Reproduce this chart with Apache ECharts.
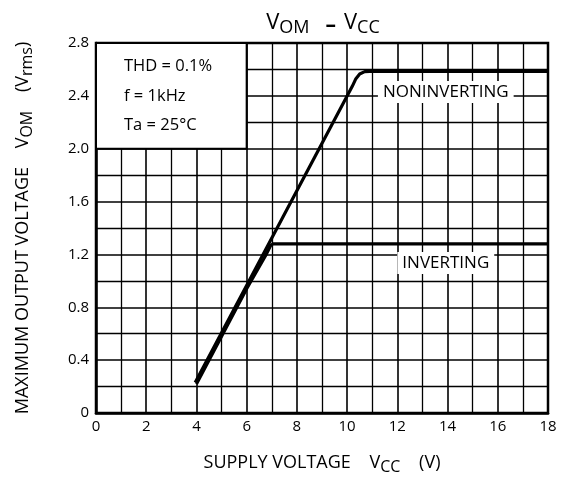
<!DOCTYPE html>
<html><head><meta charset="utf-8">
<script src="https://cdn.jsdelivr.net/npm/echarts@6/dist/echarts.min.js"></script>
<style>html,body{margin:0;padding:0;background:#fff}#c{width:563px;height:480px}</style>
</head><body><div id="c"></div>
<script>
// Data
const nonInvX = [3.95, 10.2, 10.35, 10.5, 10.7, 10.9, 18];
const nonInvY = [0.23, 2.47, 2.53, 2.565, 2.583, 2.585, 2.585];
const invX = [4.0, 6.0, 6.75, 6.95, 7.05, 18];
const invY = [0.22, 0.94, 1.19, 1.265, 1.28, 1.28];
const xTicks = [0, 2, 4, 6, 8, 10, 12, 14, 16, 18];
const yTicks = [0, 0.4, 0.8, 1.2, 1.6, 2.0, 2.4, 2.8];
const conditions = ['THD = 0.1%', 'f = 1kHz', 'Ta = 25°C'];
const curveLabels = [
  {name: 'NONINVERTING', x: 13.93, y: 2.43},
  {name: 'INVERTING', x: 13.93, y: 1.135}
];

const FONT = 'Open Sans';
const pairs = (xs, ys) => xs.map((x, i) => [x, ys[i]]);

const chart = echarts.init(document.getElementById('c'));
chart.setOption({
  animation: false,
  backgroundColor: '#fff',
  textStyle: {fontFamily: FONT, color: '#000'},
  title: {
    text: '{v|V}{s|OM}{d|–}{v|V}{s|CC}',
    left: 318, top: 4, textAlign: 'center',
    textStyle: {
      fontWeight: 'normal',
      rich: {
        v: {fontFamily: FONT, fontSize: 22, fontWeight: 'normal', color: '#000', lineHeight: 28, verticalAlign: 'middle'},
        s: {fontFamily: FONT, fontSize: 18, fontWeight: 'normal', color: '#000', lineHeight: 18, verticalAlign: 'bottom'},
        d: {fontFamily: FONT, fontSize: 21, fontWeight: 'bold', color: '#000', lineHeight: 21, verticalAlign: 'bottom',
            padding: [0, 8, 0, 16]}
      }
    }
  },
  grid: {left: 96, right: 15, top: 43, bottom: 62.5, show: true, borderColor: '#000', borderWidth: 2.5},
  xAxis: {
    type: 'value', min: 0, max: 18, interval: 2,
    axisLine: {show: true, lineStyle: {color: '#000', width: 2.5}},
    axisTick: {show: false},
    axisLabel: {color: '#000', fontSize: 15, fontFamily: FONT, margin: 6,
      formatter: v => xTicks.includes(v) ? String(v) : ''},
    splitLine: {show: true, lineStyle: {color: '#000', width: 1.6}},
    minorTick: {show: false, splitNumber: 2},
    minorSplitLine: {show: true, lineStyle: {color: '#000', width: 1.3}},
    name: '{n|SUPPLY VOLTAGE    V}{s|CC}{n|    (V)}',
    nameLocation: 'middle', nameGap: 38,
    nameTextStyle: {
      rich: {
        n: {fontFamily: FONT, fontSize: 18, color: '#000', lineHeight: 24, verticalAlign: 'middle'},
        s: {fontFamily: FONT, fontSize: 16, color: '#000', lineHeight: 16, verticalAlign: 'bottom'}
      },
      fontFamily: FONT, fontSize: 18, color: '#000'
    }
  },
  yAxis: {
    type: 'value', min: 0, max: 2.8, interval: 0.4,
    axisLine: {show: true, lineStyle: {color: '#000', width: 2.5}},
    axisTick: {show: false},
    axisLabel: {color: '#000', fontSize: 15, fontFamily: FONT, margin: 7,
      formatter: v => {
        const t = yTicks.find(k => Math.abs(k - v) < 1e-6);
        return t === undefined ? '' : (t === 0 ? '0' : t.toFixed(1));
      }},
    splitLine: {show: true, lineStyle: {color: '#000', width: 1.6}},
    minorTick: {show: false, splitNumber: 2},
    minorSplitLine: {show: true, lineStyle: {color: '#000', width: 1.3}},
    name: '{n|MAXIMUM OUTPUT VOLTAGE    V}{s|OM}{n|    (V}{s|rms}{n|)}',
    nameLocation: 'middle', nameGap: 61, nameRotate: 90,
    nameTextStyle: {
      rich: {
        n: {fontFamily: FONT, fontSize: 18, color: '#000', lineHeight: 24, verticalAlign: 'middle'},
        s: {fontFamily: FONT, fontSize: 16, color: '#000', lineHeight: 16, verticalAlign: 'bottom'}
      }
    }
  },
  series: [
    {
      type: 'line', name: 'NONINVERTING', data: pairs(nonInvX, nonInvY),
      symbol: 'none', smooth: false, z: 5,
      lineStyle: {color: '#000', width: 3.2},
      markArea: {
        silent: true,
        itemStyle: {color: '#fff', borderColor: '#000', borderWidth: 2},
        data: [[{coord: [0, 2.8]}, {coord: [6, 2.0]}]]
      },
      markPoint: {
        symbol: 'rect', symbolSize: 0, silent: true,
        label: {show: true, position: 'inside', color: '#000', fontFamily: FONT, fontSize: 17,
          backgroundColor: '#fff', padding: [3, 5, 2, 5], formatter: p => p.name},
        data: curveLabels.map(l => ({name: l.name, coord: [l.x, l.y]}))
      }
    },
    {
      type: 'line', name: 'INVERTING', data: pairs(invX, invY),
      symbol: 'none', smooth: false, z: 4,
      lineStyle: {color: '#000', width: 3.2}
    }
  ],
  graphic: conditions.map((t, i) => ({
    type: 'text', left: 124, top: 58 + i * 29.5, z: 100,
    style: {text: t, fontFamily: FONT, fontSize: 16.5, fill: '#000'}
  }))
});
</script></body></html>
